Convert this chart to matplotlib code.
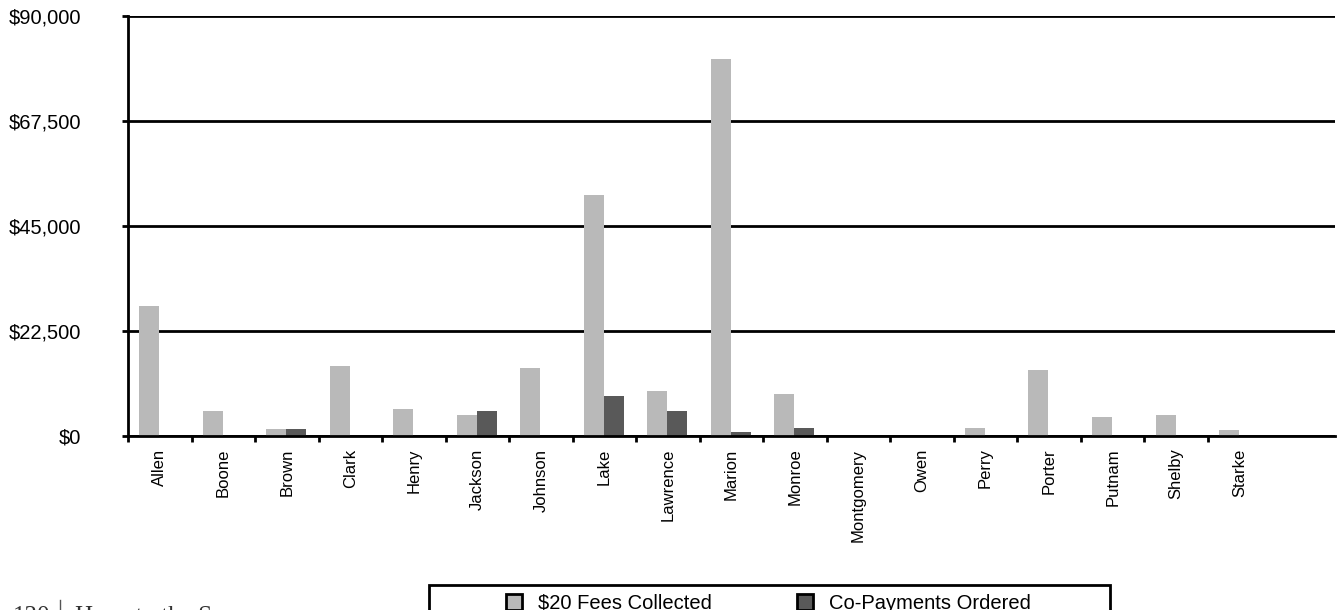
import matplotlib
matplotlib.use("Agg")
import matplotlib.pyplot as plt
from matplotlib.patches import Patch, Rectangle
from matplotlib.ticker import FuncFormatter, FixedLocator
import numpy as np

counties = ["Allen", "Boone", "Brown", "Clark", "Henry", "Jackson", "Johnson",
            "Lake", "Lawrence", "Marion", "Monroe", "Montgomery", "Owen",
            "Perry", "Porter", "Putnam", "Shelby", "Starke"]
fees_collected = [27800, 5300, 1400, 15100, 5700, 4600, 14500, 51600, 9600,
                  80800, 9100, 0, 0, 1700, 14100, 4100, 4500, 1300]
copayments = [0, 0, 1400, 0, 0, 5300, 0, 8500, 5300, 800, 1800, 0, 0, 0, 0,
              0, 0, 0]
series_names = ["$20 Fees Collected", "Co-Payments Ordered"]
y_ticks = [0, 22500, 45000, 67500, 90000]

LIGHT = "#b9b9b9"
DARK = "#595959"
W, H = 1340, 610

plt.rcParams["font.family"] = ["Liberation Sans", "DejaVu Sans"]

fig = plt.figure(figsize=(W / 100, H / 100), dpi=100)
ax = fig.add_axes([128 / W, 1 - 436 / H, (1335 - 128) / W, (436 - 16) / H])

x = np.arange(len(counties))
bw = 0.315
# light bar left of the category centre, dark bar right of it
ax.bar(x - 0.01, fees_collected, width=-bw, align="edge", color=LIGHT,
       zorder=3)
ax.bar(x - 0.01, copayments, width=bw, align="edge", color=DARK, zorder=3)

ax.set_xlim(-0.5, len(counties) + 0.5)
ax.set_ylim(0, 90000)

ax.set_yticks(y_ticks)
ax.yaxis.set_major_formatter(FuncFormatter(lambda v, _: f"${v:,.0f}"))
ax.tick_params(axis="y", direction="out", length=4.5, width=2, pad=29,
               labelsize=14.5)
ax.yaxis.grid(True, color="black", linewidth=2)
ax.set_axisbelow(False)
for gl in ax.get_ygridlines():
    gl.set_zorder(2)

# boundary ticks between categories, labels at the centres
ax.xaxis.set_major_locator(FixedLocator(np.arange(len(counties)) - 0.5))
ax.xaxis.set_minor_locator(FixedLocator(x))
ax.set_xticklabels([], minor=False)
ax.set_xticklabels(counties, minor=True, rotation=90, fontsize=12, va="top")
ax.tick_params(axis="x", which="major", direction="out", length=4.5, width=2)
ax.tick_params(axis="x", which="minor", length=0, pad=9)

for side in ["top", "right"]:
    ax.spines[side].set_visible(False)
for side in ["left", "bottom"]:
    ax.spines[side].set_linewidth(2)
    ax.spines[side].set_zorder(4)

# legend: box drawn separately, entries placed inside
fig.patches.append(Rectangle((429 / W, 1 - 640 / H), (1110 - 429) / W, 55 / H,
                             transform=fig.transFigure, fill=False,
                             edgecolor="black", linewidth=2))
handles = [Patch(facecolor=LIGHT, edgecolor="black", linewidth=2),
           Patch(facecolor=DARK, edgecolor="black", linewidth=2)]
fig.legend(handles, series_names, ncol=2, loc="upper left",
           bbox_to_anchor=(506 / W, 1 - 594 / H), frameon=False, fontsize=14.5,
           handlelength=0.8, handleheight=0.8, handletextpad=0.8,
           columnspacing=4.2, borderpad=0, borderaxespad=0)

# page footer, mostly cut off at the bottom edge
serif = ["Liberation Serif", "DejaVu Serif"]
fig.text(13 / W, 1 - 606 / H, "130", family=serif, fontsize=18, va="top",
         color="#333333")
fig.text(75 / W, 1 - 606 / H, "Hope to the S", family=serif, fontsize=18,
         va="top", color="#333333")
fig.lines.append(plt.Line2D([60 / W, 60 / W], [1 - 600 / H, 0],
                            transform=fig.transFigure, color="#555555",
                            linewidth=1))

fig.savefig("out.png", dpi=100)
